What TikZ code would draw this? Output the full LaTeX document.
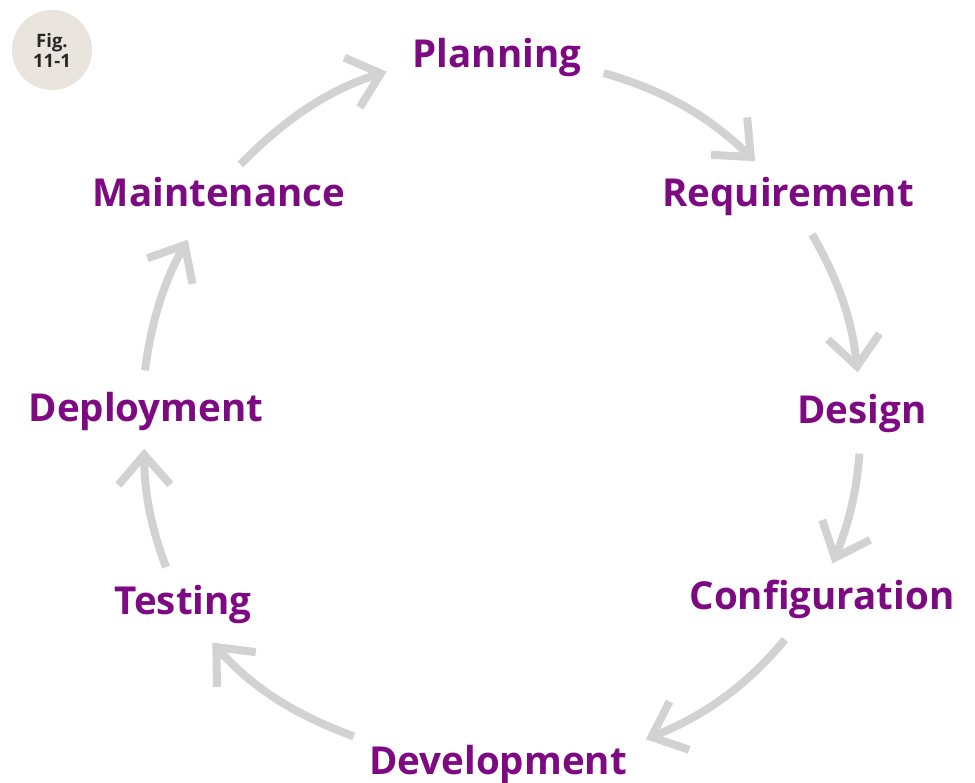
\documentclass[tikz,border=0pt]{standalone}
\usepackage{fontspec}
\setmainfont{Open Sans}
\usetikzlibrary{arrows.meta}
\definecolor{phase}{RGB}{125,10,130}
\definecolor{arrgray}{RGB}{210,210,210}
\definecolor{badgefill}{RGB}{233,228,221}

\begin{document}
\begin{tikzpicture}[
  x=1pt, y=1pt,
  phase/.style={text=phase, font=\fontsize{38.5}{42}\selectfont\bfseries,
    text height=30pt, text depth=9pt, inner sep=4pt},
  badge/.style={circle, fill=badgefill, minimum size=80pt, align=center,
    font=\fontsize{18.5}{20}\selectfont\bfseries, text=black!85},
  arr/.style={-{Straight Barb[length=30pt,width=52pt]}, line width=8pt,
    draw=arrgray}
]
\useasboundingbox (0,0) rectangle (975,783);

\node[badge] (fig) at (52,733) {Fig.\\11-1};

\node[phase] (plan)   at (497,726) {Planning};
\node[phase] (req)    at (788,587) {Requirement};
\node[phase] (design) at (862,370) {Design};
\node[phase] (config) at (822,184) {Configuration};
\node[phase] (devel)  at (498,19)  {Development};
\node[phase] (test)   at (183,179) {Testing};
\node[phase] (deploy) at (146,372) {Deployment};
\node[phase] (maint)  at (219,587) {Maintenance};

\draw[arr, shorten <=11pt, shorten >=23pt] (maint.60)   to[bend left=14] (plan.185);
\draw[arr, shorten <=19pt, shorten >=16pt] (plan.-7)    to[bend left=14] (req.132);
\draw[arr, shorten <=17pt, shorten >=17pt] (req.-57)    to[bend left=12] (design.96);
\draw[arr, shorten <=17pt, shorten >=13pt] (design.267) to[bend left=9]  (config.77);
\draw[arr, shorten <=22pt, shorten >=16pt] (config.226) to[bend left=14] (devel.8);
\draw[arr, shorten <=12pt, shorten >=20pt] (devel.170)  to[bend left=14] (test.-56);
\draw[arr, shorten <=14pt, shorten >=14pt] (test.117)   to[bend left=10] (deploy.265);
\draw[arr, shorten <=17pt, shorten >=23pt] (deploy.98)  to[bend left=11] (maint.230);
\end{tikzpicture}
\end{document}
